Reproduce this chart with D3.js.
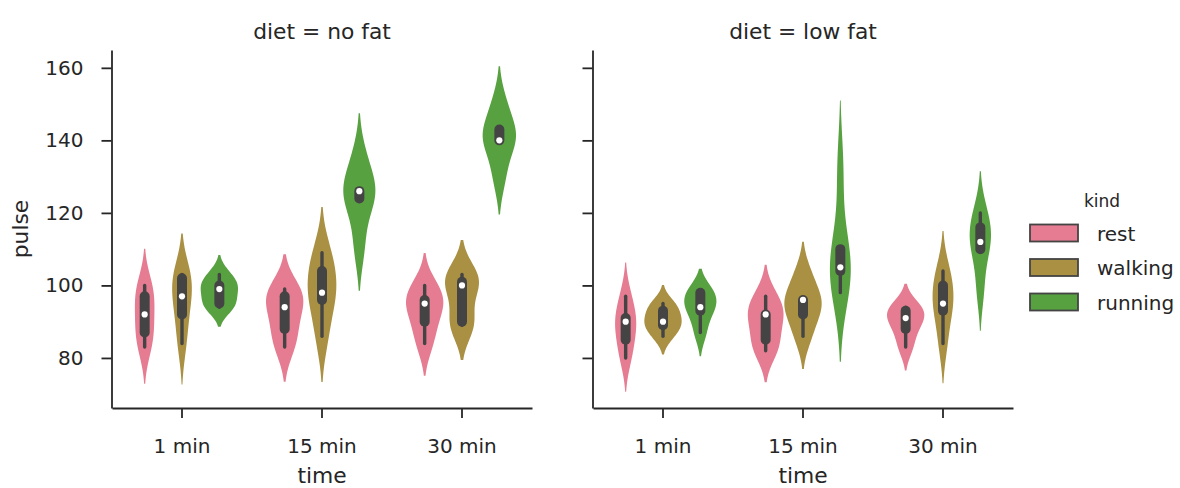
<!DOCTYPE html>
<html>
<head>
<meta charset="utf-8">
<script src="https://cdn.jsdelivr.net/npm/d3@7"></script>
<style>
  body { margin: 0; background: #ffffff; }
  svg { display: block; }
  text { font-family: "DejaVu Sans", sans-serif; fill: #262626; }
</style>
</head>
<body>
<svg id="chart" width="1180" height="488"></svg>
<script>
// ---------- data ----------
const diets = ["no fat", "low fat"];
const times = ["1 min", "15 min", "30 min"];
const kinds = ["rest", "walking", "running"];
const kindColors = ["#e57c91", "#aa9043", "#58a141"];
const yTicks = [80, 100, 120, 140, 160];

// pulse readings, five subjects per group, listed per time: [1 min, 15 min, 30 min]
const noFatRest     = [[83, 87, 92, 97, 100], [83, 88, 94, 99, 97], [84, 90, 95, 96, 100]];
const noFatWalking  = [[84, 103, 92, 97, 102], [86, 109, 96, 98, 104], [89, 90, 101, 100, 103]];
const noFatRunning  = [[95, 100, 103, 94, 99], [126, 126, 124, 135, 111], [143, 140, 140, 130, 150]];
const lowFatRest    = [[85, 90, 97, 80, 91], [85, 92, 97, 82, 92], [88, 93, 94, 83, 91]];
const lowFatWalking = [[86, 93, 90, 95, 89], [86, 103, 92, 96, 96], [84, 104, 93, 100, 95]];
const lowFatRunning = [[93, 98, 98, 87, 94], [98, 104, 105, 132, 110], [110, 112, 99, 120, 116]];

const panelData = {
  "no fat": [noFatRest, noFatWalking, noFatRunning],
  "low fat": [lowFatRest, lowFatWalking, lowFatRunning]
};

// ---------- layout ----------
const svg = d3.select("#chart");
const panels = [
  { diet: "no fat", x0: 112, x1: 532, labels: true },
  { diet: "low fat", x0: 593, x1: 1013, labels: false }
];
const yTop = 50, yBot = 408;
const axisColor = "#262626";
const boxGray = "#444444";

// gaussian KDE, scott bandwidth, cut = 2, 100 grid points
function kde(values) {
  const n = values.length;
  const bw = d3.deviation(values) * Math.pow(n, -1 / 5);
  const lo = d3.min(values) - 2 * bw, hi = d3.max(values) + 2 * bw;
  const c = 1 / (Math.sqrt(2 * Math.PI) * bw * n);
  return d3.range(100).map(i => {
    const y = lo + (hi - lo) * i / 99;
    return [y, c * d3.sum(values, v => Math.exp(-0.5 * ((y - v) / bw) ** 2))];
  });
}

// compute all violins
const violins = [];
diets.forEach(diet => {
  times.forEach((t, ti) => {
    kinds.forEach((k, ki) => {
      const vals = panelData[diet][ki][ti];
      const sorted = vals.slice().sort(d3.ascending);
      const q1 = d3.quantileSorted(sorted, 0.25);
      const q2 = d3.quantileSorted(sorted, 0.5);
      const q3 = d3.quantileSorted(sorted, 0.75);
      const iqr = q3 - q1;
      const whisLo = d3.min(sorted.filter(v => v >= q1 - 1.5 * iqr));
      const whisHi = d3.max(sorted.filter(v => v <= q3 + 1.5 * iqr));
      violins.push({ diet, time: t, ti, kind: k, ki, dens: kde(vals), q1, q2, q3, whisLo, whisHi });
    });
  });
});

const yLo = d3.min(violins, v => v.dens[0][0]);
const yHi = d3.max(violins, v => v.dens[v.dens.length - 1][0]);
const pad = 0.05 * (yHi - yLo);
const y = d3.scaleLinear().domain([yLo - pad, yHi + pad]).range([yBot, yTop]);

const width = 0.8;
const eachWidth = width / kinds.length;
const hueOffsets = kinds.map((k, i) => -width / 2 + eachWidth / 2 + i * eachWidth);
const dwidth = width / (2 * kinds.length);

panels.forEach(p => {
  const g = svg.append("g");
  const x = d3.scaleBand().domain(times).range([p.x0, p.x1]).padding(0);
  const bw = x.bandwidth();

  // per time group density normalisation
  const groupMax = {};
  times.forEach(t => {
    groupMax[t] = d3.max(violins.filter(v => v.diet === p.diet && v.time === t), v => d3.max(v.dens, d => d[1]));
  });

  const pv = violins.filter(v => v.diet === p.diet);
  pv.forEach(v => {
    const cx = x(v.time) + bw / 2 + hueOffsets[v.ki] * bw;
    const scale = dwidth * bw / groupMax[v.time];
    const area = d3.area()
      .y(d => y(d[0]))
      .x0(d => cx - d[1] * scale)
      .x1(d => cx + d[1] * scale);
    g.append("path").attr("d", area(v.dens)).attr("fill", kindColors[v.ki]).attr("stroke", "none");
    // whiskers
    g.append("line").attr("x1", cx).attr("x2", cx)
      .attr("y1", y(v.whisLo)).attr("y2", y(v.whisHi))
      .attr("stroke", boxGray).attr("stroke-width", 3.4).attr("stroke-linecap", "round");
    // box
    g.append("line").attr("x1", cx).attr("x2", cx)
      .attr("y1", y(v.q1)).attr("y2", y(v.q3))
      .attr("stroke", boxGray).attr("stroke-width", 10).attr("stroke-linecap", "round");
    // median
    g.append("circle").attr("cx", cx).attr("cy", y(v.q2)).attr("r", 3.1)
      .attr("fill", "#ffffff");
  });

  // axes
  const yAxis = d3.axisLeft(y).tickValues(yTicks).tickSize(10).tickSizeOuter(0).tickPadding(18);
  if (!p.labels) yAxis.tickFormat("");
  const ya = g.append("g").attr("transform", `translate(${p.x0 - 0.5},0)`).call(yAxis);
  const xAxis = d3.axisBottom(x).tickSize(10).tickSizeOuter(0).tickPadding(21);
  const xa = g.append("g").attr("transform", `translate(0,${yBot})`).call(xAxis);
  [ya, xa].forEach(a => {
    a.select(".domain").attr("stroke", axisColor).attr("stroke-width", 1.8);
    a.selectAll(".tick line").attr("stroke", axisColor).attr("stroke-width", 1.8);
    a.selectAll(".tick text").attr("fill", axisColor).style("font-size", "20px").style("font-family", "DejaVu Sans");
  });

  // title
  g.append("text").attr("x", (p.x0 + p.x1) / 2).attr("y", 39)
    .attr("text-anchor", "middle").style("font-size", "21.8px").text(`diet = ${p.diet}`);
  // x label
  g.append("text").attr("x", (p.x0 + p.x1) / 2).attr("y", 483)
    .attr("text-anchor", "middle").style("font-size", "21.8px").text("time");
});

// y label
svg.append("text").attr("transform", `translate(28,${(yTop + yBot) / 2}) rotate(-90)`)
  .attr("text-anchor", "middle").style("font-size", "21.8px").text("pulse");

// legend
const leg = svg.append("g");
leg.append("text").attr("x", 1102).attr("y", 207).attr("text-anchor", "middle")
  .style("font-size", "17px").text("kind");
kinds.forEach((k, i) => {
  const top = 224.5 + i * 34.5;
  leg.append("rect").attr("x", 1030).attr("y", top).attr("width", 48).attr("height", 17)
    .attr("fill", kindColors[i]).attr("stroke", boxGray).attr("stroke-width", 1.8);
  leg.append("text").attr("x", 1097).attr("y", top + 16).style("font-size", "20px").text(k);
});
</script>
</body>
</html>
